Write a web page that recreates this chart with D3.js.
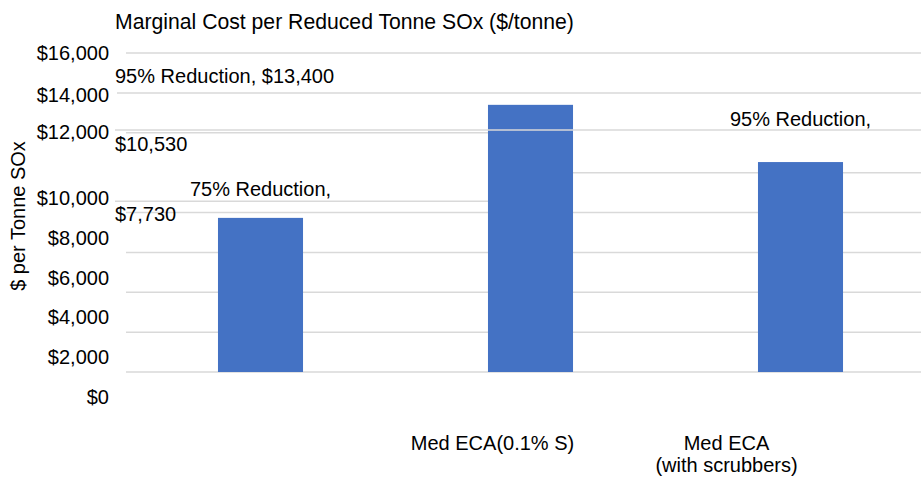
<!DOCTYPE html>
<html>
<head>
<meta charset="utf-8">
<script src="https://cdn.jsdelivr.net/npm/d3@7"></script>
<style>
  body { margin: 0; background: #fff; }
  svg { display: block; font-family: "Liberation Sans", Arial, sans-serif; }
  text { fill: #000; font-size: 20px; }
</style>
</head>
<body>
<div id="chart"></div>
<script>
// data
var categories = ["", "Med ECA(0.1% S)", "Med ECA\n(with scrubbers)"];
var costs = [7730, 13400, 10530];
var reductions = ["75% Reduction", "95% Reduction", "95% Reduction"];
var yTicks = [0, 2000, 4000, 6000, 8000, 10000, 12000, 14000, 16000];

var width = 921;
var height = 477;
var plotLeft = 125.5, plotRight = 935.5;
var labelNudge = [22, 22, 36]; // px above bar top for the first label line

var svg = d3.select('#chart')
  .append('svg')
  .attr('width', width)
  .attr('height', height);

// scales
var x = d3.scaleBand()
  .domain(categories)
  .range([plotLeft, plotRight])
  .paddingInner(0.685)
  .paddingOuter(0.3425);

var y = d3.scaleLinear()
  .domain([0, 16000])
  .range([372, 53]);

// tick labels sit where the original (misaligned) picture put them
var yLab = d3.scaleLinear()
  .domain([0, 10000, 12000, 14000, 16000])
  .range([397, 198, 132, 95, 53]);

var xLab = d3.scalePoint()
  .domain(categories)
  .range([258, 726]);

var bar2 = categories[1];
var bar2Left = x(bar2), bar2Right = x(bar2) + x.bandwidth();

// gridlines (a couple are broken / doubled like the source image)
var grid = svg.append('g').attr('class', 'grid');
yTicks.forEach(function(t) {
  var x1 = 126, x2 = plotRight;
  if (t === 12000) x2 = bar2Left;
  if (t === 10000) x1 = bar2Right;
  if (t === 14000) x1 = 117;
  grid.append('line')
    .attr('x1', x1).attr('x2', x2)
    .attr('y1', y(t)).attr('y2', y(t))
    .attr('stroke', '#d9d9d9')
    .attr('stroke-width', 1.5);
});
// stray line left of the middle bar
grid.append('line')
  .attr('x1', 115).attr('x2', bar2Left)
  .attr('y1', y(8570)).attr('y2', y(8570))
  .attr('stroke', '#d9d9d9')
  .attr('stroke-width', 1.5);

// bars
svg.append('g').selectAll('rect')
  .data(costs)
  .enter()
  .append('rect')
  .attr('x', function(d, i) { return x(categories[i]); })
  .attr('y', function(d) { return y(d); })
  .attr('width', x.bandwidth())
  .attr('height', function(d) { return y(0) - y(d); })
  .attr('fill', '#4472c4');

// stray line drawn over everything
svg.append('line')
  .attr('x1', 115).attr('x2', plotRight)
  .attr('y1', y(12140)).attr('y2', y(12140))
  .attr('stroke', '#d9d9d9')
  .attr('stroke-width', 1.5);

// y axis labels
var yAxis = d3.axisLeft(yLab)
  .tickValues(yTicks)
  .tickSize(0)
  .tickPadding(0)
  .tickFormat(function(d) { return '$' + d3.format(',')(d); });

var gy = svg.append('g')
  .attr('transform', 'translate(109,0)')
  .call(yAxis);
gy.select('.domain').remove();
gy.selectAll('text').attr('font-size', 20).attr('fill', '#000');

// x axis labels
var xAxis = d3.axisBottom(xLab)
  .tickSize(0)
  .tickPadding(0);

var gx = svg.append('g')
  .attr('transform', 'translate(0,436)')
  .call(xAxis);
gx.select('.domain').remove();
gx.selectAll('text')
  .attr('font-size', 20)
  .attr('fill', '#000')
  .each(function(d) {
    var lines = d.split('\n');
    var t = d3.select(this).text(null);
    lines.forEach(function(l, i) {
      t.append('tspan')
        .attr('x', 0)
        .attr('dy', i === 0 ? '0.71em' : '1.1em')
        .text(l);
    });
  });

// data labels
var labels = svg.append('g');
costs.forEach(function(v, i) {
  var top = y(v) - labelNudge[i];
  var money = '$' + d3.format(',')(v);
  if (i === 1) {
    labels.append('text')
      .attr('x', 115)
      .attr('y', top)
      .text(reductions[i] + ', ' + money);
  } else {
    labels.append('text')
      .attr('x', x(categories[i]) + x.bandwidth() / 2)
      .attr('y', top)
      .attr('text-anchor', 'middle')
      .text(reductions[i] + ',');
    labels.append('text')
      .attr('x', 115)
      .attr('y', top + 25)
      .text(money);
  }
});

// titles
svg.append('text')
  .attr('x', 115)
  .attr('y', 29)
  .style('font-size', '21.2px')
  .text('Marginal Cost per Reduced Tonne SOx ($/tonne)');

svg.append('text')
  .attr('transform', 'translate(25,216) rotate(-90)')
  .attr('text-anchor', 'middle')
  .text('$ per Tonne SOx');
</script>
</body>
</html>
